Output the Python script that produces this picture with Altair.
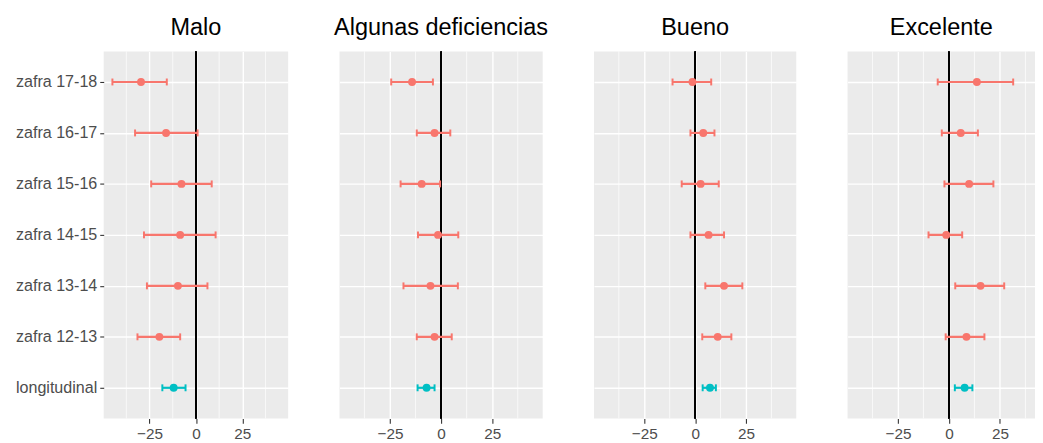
import altair as alt
import pandas as pd

CATEGORIES = ["zafra 17-18", "zafra 16-17", "zafra 15-16", "zafra 14-15",
              "zafra 13-14", "zafra 12-13", "longitudinal"]
GROUPS = ["zafra", "zafra", "zafra", "zafra", "zafra", "zafra", "longitudinal"]
PANELS = ["Malo", "Algunas deficiencias", "Bueno", "Excelente"]

EST_MALO = [-29.6, -16.1, -7.8, -8.5, -9.7, -19.7, -12.0]
LOW_MALO = [-45.0, -32.8, -24.1, -28.0, -26.4, -31.5, -18.1]
HIGH_MALO = [-15.7, 0.9, 8.5, 10.6, 6.2, -8.5, -5.6]

EST_ALG = [-14.2, -3.2, -9.5, -1.5, -5.2, -3.2, -7.1]
LOW_ALG = [-24.4, -11.9, -19.8, -11.3, -18.4, -11.9, -11.5]
HIGH_ALG = [-4.0, 4.5, -0.5, 8.4, 8.2, 5.2, -3.2]

EST_BUENO = [-1.3, 4.0, 2.7, 6.6, 14.2, 11.1, 7.3]
LOW_BUENO = [-11.1, -2.3, -6.6, -2.3, 5.0, 3.5, 3.7]
HIGH_BUENO = [7.9, 9.5, 11.6, 14.2, 23.2, 17.8, 10.2]

EST_EXC = [13.7, 5.8, 9.9, -1.3, 15.5, 8.6, 7.7]
LOW_EXC = [-5.5, -3.5, -2.2, -10.0, 3.1, -1.6, 2.9]
HIGH_EXC = [31.5, 14.2, 21.8, 6.5, 27.1, 17.4, 11.5]

X_MAJOR = [-25, 0, 25]
X_MINOR = [-37.5, -12.5, 12.5, 37.5]

SERIES = {
    "Malo": (EST_MALO, LOW_MALO, HIGH_MALO),
    "Algunas deficiencias": (EST_ALG, LOW_ALG, HIGH_ALG),
    "Bueno": (EST_BUENO, LOW_BUENO, HIGH_BUENO),
    "Excelente": (EST_EXC, LOW_EXC, HIGH_EXC),
}

PANEL_WIDTHS = [187, 206, 205, 190]
X_DOMAINS = [[-49.7, 49.7], [-49.7, 49.7], [-49.7, 49.7], [-49.7, 42.2]]
PANEL_HEIGHT = 372
FONT = "Liberation Sans"


def panel(i, name):
    est, lo, hi = SERIES[name]
    df = pd.DataFrame({"cat": CATEGORIES, "grp": GROUPS, "est": est, "lo": lo, "hi": hi})
    minor_df = pd.DataFrame({"v": X_MINOR})
    first = i == 0

    x_scale = alt.Scale(domain=X_DOMAINS[i], nice=False, zero=False)
    y_scale = alt.Scale(type="point", domain=CATEGORIES, padding=0.6)
    color = alt.Color("grp:N",
                      scale=alt.Scale(domain=["zafra", "longitudinal"],
                                      range=["#F8766D", "#00BFC4"]),
                      legend=None)
    x_axis = alt.Axis(title=None, values=X_MAJOR, domain=False, grid=True,
                      gridColor="white", gridWidth=1.4, tickColor="#333333",
                      tickSize=5, tickWidth=1.1, labelColor="#4D4D4D",
                      labelFontSize=15.5, labelFont=FONT, labelPadding=3)
    y_axis = alt.Axis(title=None, labels=first, ticks=first, domain=False,
                      grid=True, gridColor="white", gridWidth=1.4,
                      tickColor="#333333", tickSize=4, tickWidth=1.1,
                      labelColor="#4D4D4D", labelFontSize=16.3, labelFont=FONT,
                      labelPadding=3)

    X = lambda f: alt.X(f, scale=x_scale, axis=x_axis)
    Y = alt.Y("cat:N", scale=y_scale, axis=y_axis, sort=CATEGORIES)

    minor = alt.Chart(minor_df).mark_rule(color="white", strokeWidth=0.7).encode(
        x=X("v:Q"))
    zero = alt.Chart(df).mark_rule(color="black", strokeWidth=1.2).encode(
        x=alt.datum(0, scale=x_scale))
    bar = alt.Chart(df).mark_rule(strokeWidth=2.2).encode(
        x=X("lo:Q"), x2="hi:Q", y=Y, color=color)
    cap_lo = alt.Chart(df).mark_tick(thickness=2, size=7, opacity=1).encode(
        x=X("lo:Q"), y=Y, color=color)
    cap_hi = alt.Chart(df).mark_tick(thickness=2, size=7, opacity=1).encode(
        x=X("hi:Q"), y=Y, color=color)
    pts = alt.Chart(df).mark_circle(size=64, opacity=1).encode(
        x=X("est:Q"), y=Y, color=color)

    return alt.layer(minor, zero, bar, cap_lo, cap_hi, pts).properties(
        width=PANEL_WIDTHS[i], height=PANEL_HEIGHT,
        title=alt.Title(name, fontSize=23.8, font=FONT, color="black",
                        fontWeight="normal", anchor="middle", offset=11),
    )


chart = alt.hconcat(*[panel(i, n) for i, n in enumerate(PANELS)],
                    spacing=52, bounds="flush").properties(
    padding={"left": 7, "top": 5, "right": 0, "bottom": 0},
).configure(background="white").configure_view(fill="#EBEBEB", stroke=None)

chart.save("out.html", embed_options={"renderer": "svg", "actions": False})
